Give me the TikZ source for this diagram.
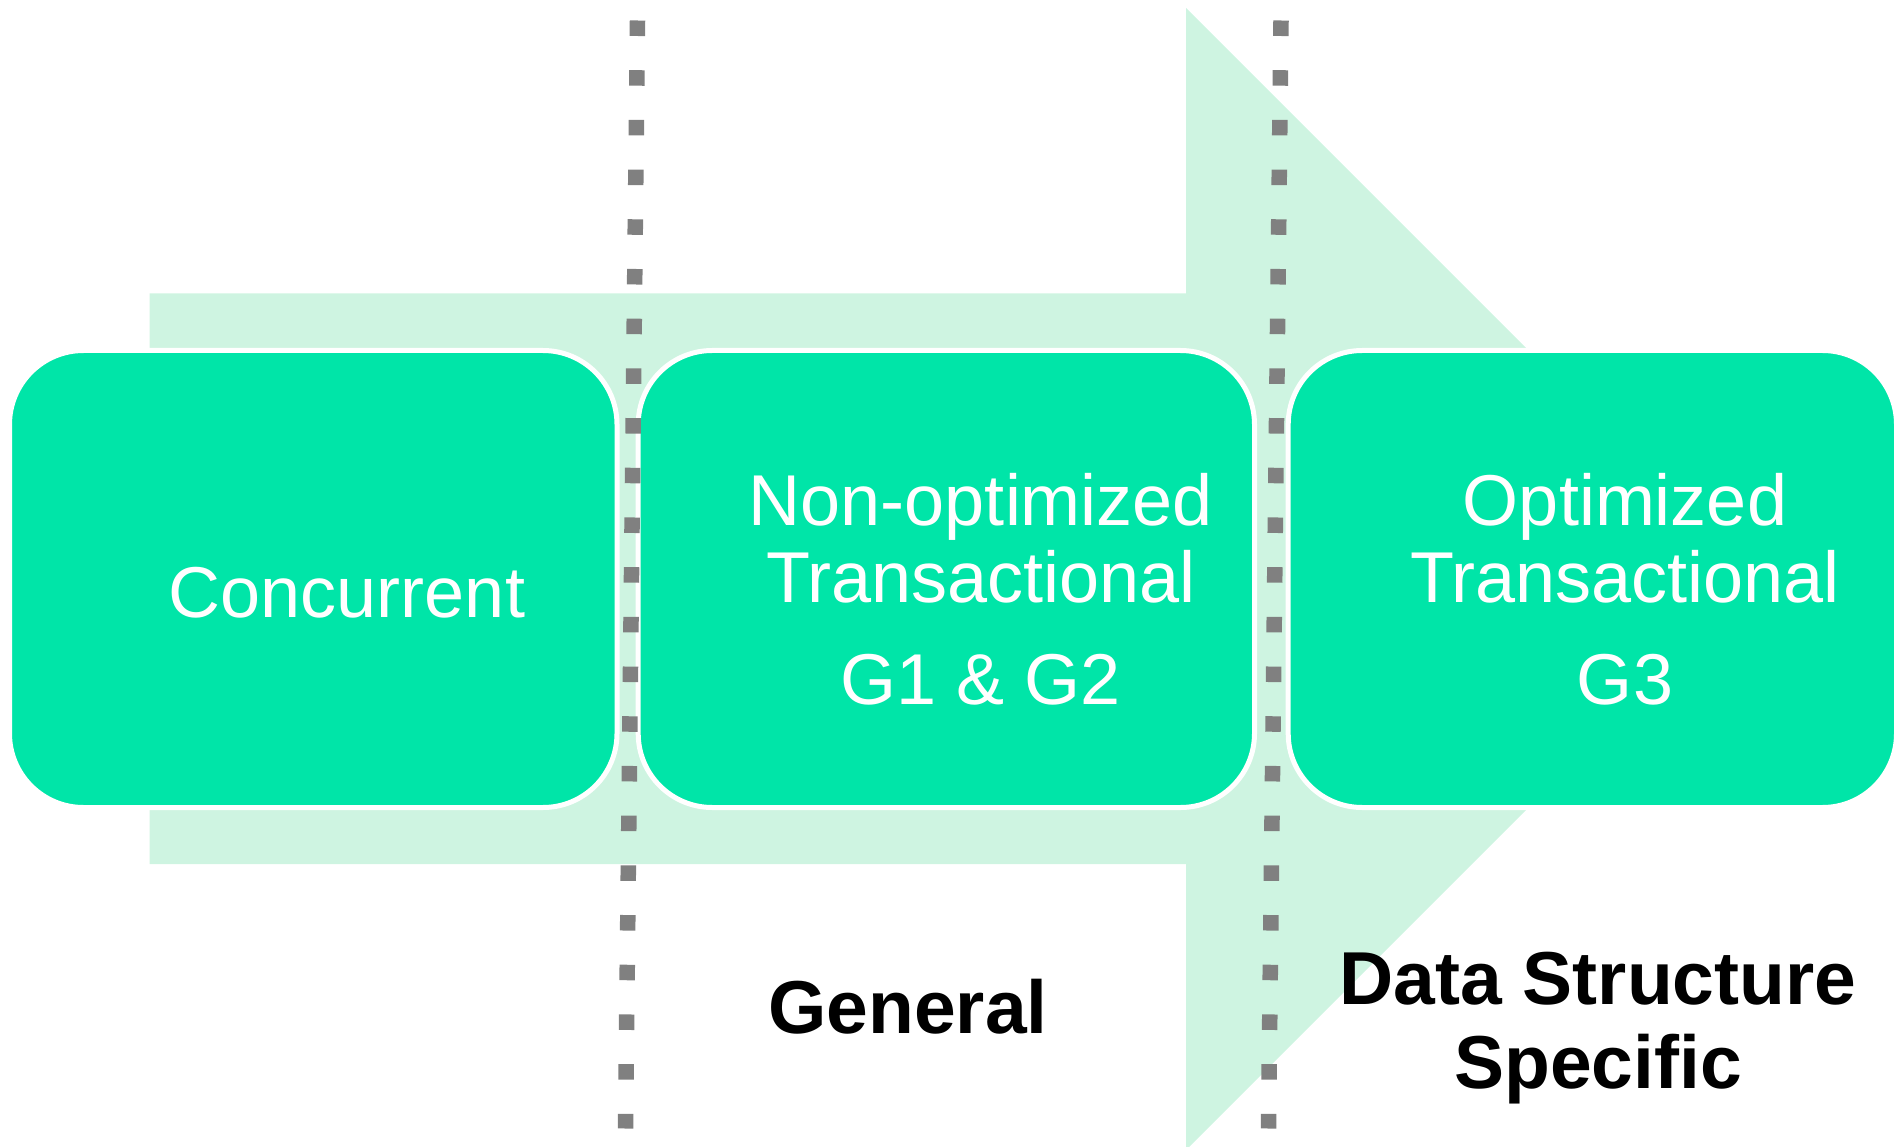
\documentclass[tikz,border=0pt]{standalone}
\usepackage{fontspec}
\setmainfont{Liberation Sans}
\definecolor{arrowbg}{HTML}{CEF4E1}
\definecolor{boxgreen}{HTML}{00E5A8}
\definecolor{dotgray}{HTML}{808080}
\tikzset{
  stagebox/.style={draw=white, line width=5pt, fill=boxgreen, rounded corners=74pt,
    minimum height=457pt, inner sep=0pt, outer sep=0pt},
  boxtxt/.style={anchor=base, inner sep=0pt, text=white, font=\fontsize{72}{80}\selectfont},
  zonetxt/.style={anchor=base, inner sep=0pt, text=black, font=\fontsize{75}{84}\selectfont\bfseries},
  dotline/.style={draw=dotgray, line width=15.5pt, dash pattern=on 15.5pt off 34.2pt}
}
\begin{document}
\begin{tikzpicture}[x=1pt, y=-1pt]
\useasboundingbox (0,0) rectangle (1903,1147);
% big background arrow
\fill[arrowbg] (149.5,293.5) -- (1186,293.5) -- (1186,8) -- (1757,579)
  -- (1186,1150) -- (1186,864) -- (149.5,864) -- cycle;
% stage boxes
\node[stagebox, minimum width=607.5pt] (b1) at (313.25,579) {};
\node[stagebox, minimum width=616.3pt] (b2) at (946.35,579) {};
\node[stagebox, minimum width=608.3pt] (b3) at (1592.35,579) {};
% box texts
\node[boxtxt] (c1) at (347,617) {Concurrent};
\node[boxtxt] (n1) at (981,525) {Non-optimized};
\node[boxtxt] (n2) at (981,602) {Transactional};
\node[boxtxt] (n3) at (981,704) {G1 \& G2};
\node[boxtxt] (o1) at (1625,525) {Optimized};
\node[boxtxt] (o2) at (1625,602) {Transactional};
\node[boxtxt] (o3) at (1625,704) {G3};
% dotted separators
\coordinate (d1t) at (637.5,20.5);
\coordinate (d1b) at (625.5,1128.5);
\coordinate (d2t) at (1281,20.5);
\coordinate (d2b) at (1268.5,1128.5);
\draw[dotline] (d1t) -- (d1b);
\draw[dotline] (d2t) -- (d2b);
% zone labels
\node[zonetxt] (gen) at (908,1033) {General};
\node[zonetxt] (ds1) at (1598,1004) {Data Structure};
\node[zonetxt] (ds2) at (1598,1088) {Specific};
\end{tikzpicture}
\end{document}
